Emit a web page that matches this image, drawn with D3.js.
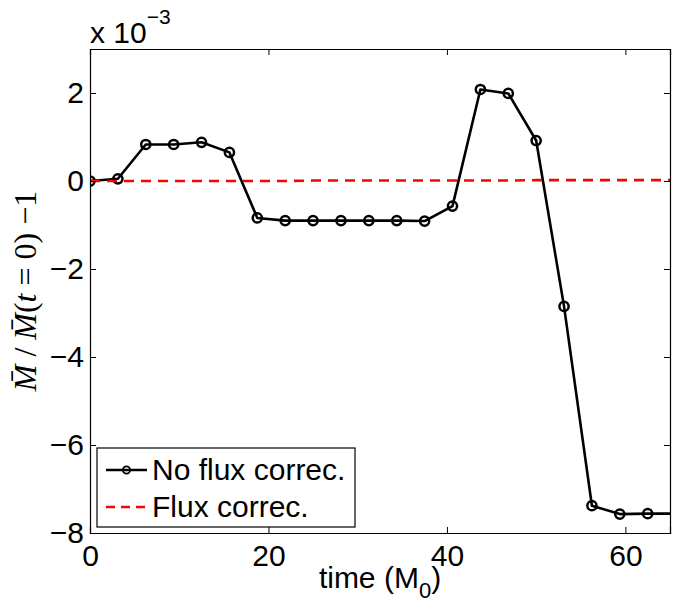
<!DOCTYPE html>
<html><head><meta charset="utf-8">
<script src="https://cdn.jsdelivr.net/npm/d3@7"></script>
<style>body{margin:0;background:#fff}svg{display:block}</style>
</head><body>
<svg id="c" width="678" height="603"></svg>
<script>
// time values (M0)
const times = [0, 3.125, 6.25, 9.375, 12.5, 15.625, 18.75, 21.875, 25, 28.125, 31.25, 34.375, 37.5, 40.625, 43.75, 46.875, 50, 53.125, 56.25, 59.375, 62.5, 65.625];
// No flux correction (units of 1e-3)
const noFlux = [0.0, 0.05, 0.83, 0.83, 0.88, 0.65, -0.84, -0.90, -0.90, -0.90, -0.90, -0.90, -0.91, -0.57, 2.08, 1.99, 0.92, -2.85, -7.38, -7.57, -7.56, -7.56];
// Flux correction (units of 1e-3)
const flux = [0.0, 0.0, 0.0, 0.0, 0.0, 0.0, 0.0, 0.0, 0.01, 0.01, 0.01, 0.01, 0.01, 0.01, 0.01, 0.01, 0.02, 0.02, 0.02, 0.02, 0.02, 0.02];
const xTicks = [0, 20, 40, 60];
const yTicks = [-8, -6, -4, -2, 0, 2];
const legendLabels = ["No flux correc.", "Flux correc."];

const svg = d3.select("#c");
const L = 90, R = 670, T = 49, B = 533;
const x = d3.scaleLinear().domain([0, 65]).range([L, R]);
const y = d3.scaleLinear().domain([-8, 3]).range([B, T]);
const font = "'Liberation Sans', Arial, Helvetica, sans-serif";
const FS = 30;

svg.append("defs").append("clipPath").attr("id", "clip")
  .append("rect").attr("x", L).attr("y", T).attr("width", R - L).attr("height", B - T);

const g = svg.append("g").attr("clip-path", "url(#clip)");
const line = d3.line().x((d, i) => x(times[i])).y(d => y(d));

g.append("path").datum(noFlux).attr("d", line)
  .attr("fill", "none").attr("stroke", "#000").attr("stroke-width", 2.6).attr("stroke-linejoin", "round");
g.selectAll("circle.m").data(noFlux.filter((d, i) => times[i] <= 65)).enter().append("circle")
  .attr("class", "m").attr("cx", (d, i) => x(times[i])).attr("cy", d => y(d)).attr("r", 4.6)
  .attr("fill", "none").attr("stroke", "#000").attr("stroke-width", 2.5);
g.append("path").datum(flux).attr("d", line)
  .attr("fill", "none").attr("stroke", "#ff0000").attr("stroke-width", 2.6).attr("stroke-dasharray", "10,7");

// axes (box with inward ticks)
const ax = svg.append("g");
ax.append("g").attr("transform", `translate(0,${B})`)
  .call(d3.axisBottom(x).tickValues(xTicks).tickSize(-6).tickPadding(12).tickFormat(d3.format("d")));
ax.append("g").attr("transform", `translate(0,${T})`)
  .call(d3.axisTop(x).tickValues(xTicks).tickSize(-6).tickFormat(""));
ax.append("g").attr("transform", `translate(${L},0)`)
  .call(d3.axisLeft(y).tickValues(yTicks).tickSize(-6).tickPadding(6).tickFormat(d => d < 0 ? "\u2212" + Math.abs(d) : d));
ax.append("g").attr("transform", `translate(${R},0)`)
  .call(d3.axisRight(y).tickValues(yTicks).tickSize(-6).tickFormat(""));
ax.selectAll(".domain").attr("stroke", "#000").attr("stroke-width", 1.2);
ax.selectAll(".tick line").attr("stroke", "#000").attr("stroke-width", 1);
ax.selectAll(".tick text").attr("font-family", font).attr("font-size", FS).attr("fill", "#000");

// exponent label
const ex = svg.append("text").attr("x", L).attr("y", 43).attr("font-family", font).attr("font-size", FS).attr("fill", "#000");
ex.append("tspan").text("x 10");
ex.append("tspan").attr("dy", -19).attr("font-size", 21).text("\u22123");

// x label
const xl = svg.append("text").attr("x", (L + R) / 2).attr("y", 588).attr("text-anchor", "middle")
  .attr("font-family", font).attr("font-size", FS).attr("fill", "#000");
xl.append("tspan").text("time (M");
xl.append("tspan").attr("dy", 10).attr("font-size", 22).text("0");
xl.append("tspan").attr("dy", -10).text(")");

// y label (serif, LaTeX style)
const yl = svg.append("text").attr("transform", `translate(36,${(T + B) / 2}) rotate(-90)`)
  .attr("text-anchor", "middle").attr("font-family", "'Liberation Serif', 'DejaVu Serif', serif")
  .attr("font-size", 32).attr("fill", "#000");
yl.append("tspan").attr("font-style", "italic").text("M\u0304");
yl.append("tspan").text(" / ");
yl.append("tspan").attr("font-style", "italic").text("M\u0304");
yl.append("tspan").text("(");
yl.append("tspan").attr("font-style", "italic").text("t");
yl.append("tspan").text(" = 0)  \u22121");

// legend
const lg = svg.append("g");
lg.append("rect").attr("x", 97).attr("y", 448).attr("width", 258).attr("height", 79)
  .attr("fill", "#fff").attr("stroke", "#000").attr("stroke-width", 1.2);
const rowsY = [470, 507];
lg.append("line").attr("x1", 106).attr("x2", 147).attr("y1", rowsY[0]).attr("y2", rowsY[0])
  .attr("stroke", "#000").attr("stroke-width", 2.6);
lg.append("circle").attr("cx", 126.5).attr("cy", rowsY[0]).attr("r", 3.6)
  .attr("fill", "none").attr("stroke", "#000").attr("stroke-width", 1.8);
lg.append("line").attr("x1", 106).attr("x2", 147).attr("y1", rowsY[1]).attr("y2", rowsY[1])
  .attr("stroke", "#ff0000").attr("stroke-width", 2.6).attr("stroke-dasharray", "9,6");
lg.selectAll("text.lt").data(legendLabels).enter().append("text").attr("class", "lt")
  .attr("x", 152).attr("y", (d, i) => rowsY[i] + 10).attr("font-family", font).attr("font-size", FS)
  .attr("fill", "#000").text(d => d);
</script>
</body></html>
